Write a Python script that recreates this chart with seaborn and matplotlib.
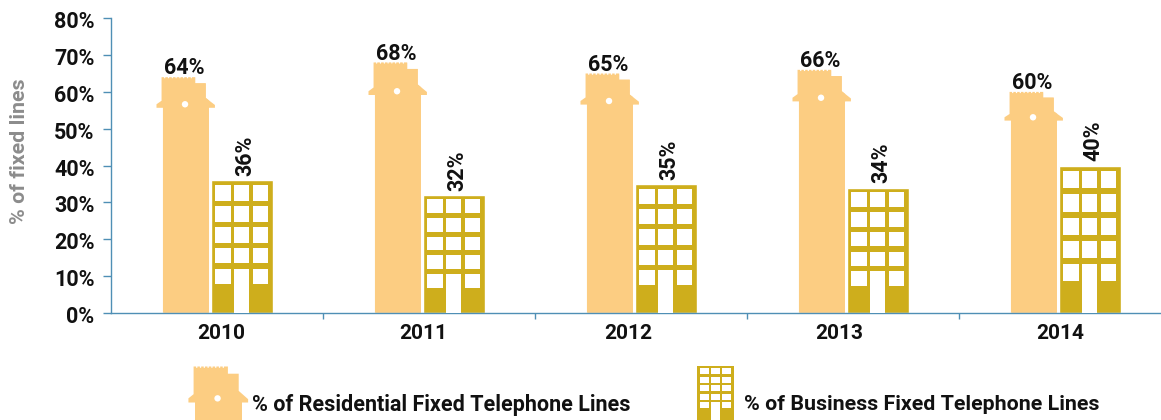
import matplotlib
matplotlib.use("Agg")
import matplotlib.pyplot as plt
import pandas as pd
import seaborn as sns
from matplotlib.patches import Circle, Polygon, Rectangle
from matplotlib.transforms import Affine2D, ScaledTranslation

years = ["2010", "2011", "2012", "2013", "2014"]
residential = [64, 68, 65, 66, 60]
business = [36, 32, 35, 34, 40]
y_ticks = [0, 10, 20, 30, 40, 50, 60, 70, 80]
series_names = ["% of Residential Fixed Telephone Lines", "% of Business Fixed Telephone Lines"]

W, H = 1161, 420
HOUSE = "#fccd82"
GOLD = "#ceae1c"
AXIS = "#4f8fb5"
INK = "#111111"

sns.set_style("white")
plt.rcParams["font.family"] = ["Roboto", "DejaVu Sans"]
plt.rcParams["font.weight"] = "bold"

fig = plt.figure(figsize=(W / 100, H / 100), dpi=100)
ax = fig.add_axes([111 / W, (H - 312.7) / H, (W - 111) / W, (312.7 - 18.3) / H])

df = pd.DataFrame({
    "year": years * 2,
    "series": [series_names[0]] * 5 + [series_names[1]] * 5,
    "value": residential + business,
})
sns.barplot(data=df, x="year", y="value", hue="series", palette=[HOUSE, GOLD],
            width=0.52, gap=0, saturation=1, legend=False, ax=ax)

ax.set_xlim(-0.5, (W - 111) / 212 - 0.5)
ax.set_ylim(0, 80)
sns.despine(ax=ax)

# everything icon shaped is worked out in image pixels (y going down)
pix = Affine2D().scale(1 / W, -1 / H).translate(0, 1) + fig.transFigure


def to_pix(x, y):
    return pix.inverted().transform(ax.transData.transform((x, y)))


def house_outline(left, right, top, bottom):
    w = right - left
    h = bottom - top
    tower_l = left - 0.03 * w
    step_x = left + 0.70 * w
    step_r = left + 0.93 * w
    pts = [(left, bottom), (left, top + 0.13 * h), (left - 0.14 * w, top + 0.13 * h),
           (left - 0.14 * w, top + 0.115 * h), (tower_l, top + 0.10 * h)]
    # notched parapet along the roof line
    x = tower_l
    while x < step_x - 4:
        pts += [(x, top), (x + 2.5, top), (x + 2.5, top + 1.3), (x + 3.8, top + 1.3), (x + 3.8, top)]
        x += 3.8
    pts += [(step_x, top), (step_x, top + 0.026 * h), (step_r, top + 0.026 * h),
            (step_r, top + 0.088 * h), (right + 0.13 * w, top + 0.118 * h),
            (right + 0.13 * w, top + 0.13 * h), (right, top + 0.13 * h), (right, bottom)]
    return pts


def draw_house(left, right, top, bottom, clip_target=None):
    w = right - left
    h = bottom - top
    shape = Polygon(house_outline(left, right, top, bottom), closed=True, facecolor=HOUSE,
                    edgecolor="none", transform=pix, clip_on=False, zorder=2)
    ax.add_patch(shape)
    if clip_target is not None:
        clip_target.set_clip_path(shape)
    ax.add_patch(Circle((left + 0.48 * w, top + 0.115 * h), 3.2, facecolor="white", edgecolor="none",
                        transform=pix, clip_on=False, zorder=3))


def draw_building(left, right, top, bottom, solid=False):
    w = right - left
    h = bottom - top
    if solid:
        ax.add_patch(Rectangle((left, top), w, h, facecolor=GOLD, edgecolor="none",
                               transform=pix, clip_on=False, zorder=2))
    col_x = [0.075, 0.375, 0.68]
    col_w = 0.25
    for r in range(5):
        win_top = top + (0.0376 + r * 0.158) * h
        for c in range(3):
            ax.add_patch(Rectangle((left + col_x[c] * w, win_top), col_w * w, 0.117 * h,
                                   facecolor="white", edgecolor="none", transform=pix,
                                   clip_on=False, zorder=3))
    # door runs from the last window row to the ground
    door_top = top + (0.0376 + 4 * 0.158) * h
    ax.add_patch(Rectangle((left + col_x[1] * w, door_top), col_w * w, bottom - door_top,
                           facecolor="white", edgecolor="none", transform=pix,
                           clip_on=False, zorder=3))


house_bars, building_bars = ax.containers[0], ax.containers[1]
for i in range(len(years)):
    hb = house_bars[i]
    hb.set_x(i - 0.255)
    hb.set_width(0.217)
    left, bottom = to_pix(hb.get_x(), 0)
    right, top = to_pix(hb.get_x() + hb.get_width(), hb.get_height())
    draw_house(left, right, top, bottom, clip_target=hb)
    ax.annotate(f"{residential[i]}%", (i - 0.147, residential[i]), xytext=(-1, -1.5),
                textcoords="offset points", ha="center", va="bottom",
                fontsize=15.5, color=INK)

    bb = building_bars[i]
    bb.set_x(i - 0.03)
    bb.set_width(0.292)
    left, bottom = to_pix(bb.get_x(), 0)
    right, top = to_pix(bb.get_x() + bb.get_width(), bb.get_height())
    draw_building(left, right, top, bottom)
    ax.annotate(f"{business[i]}%", (i + 0.122, business[i]), xytext=(2, 3),
                textcoords="offset points", ha="center", va="bottom", rotation=90,
                fontsize=15.5, color=INK)

# axes
for side in ["left", "bottom"]:
    ax.spines[side].set_color(AXIS)
    ax.spines[side].set_linewidth(1.0)
ax.set_yticks(y_ticks)
ax.set_yticklabels([f"{t}%" for t in y_ticks])
ax.tick_params(axis="y", left=True, length=5.8, width=1, color=AXIS, pad=6, labelsize=15.5, labelcolor=INK)
ax.set_xticks([0.5, 1.5, 2.5, 3.5], minor=True)
ax.tick_params(axis="x", which="minor", bottom=True, length=4, width=1, color=AXIS)
ax.tick_params(axis="x", which="major", bottom=False, length=0, pad=8, labelsize=15, labelcolor=INK)
ax.set_xlabel("")
ax.set_ylabel("")

for lab in ax.get_yticklabels():
    lab.set_transform(lab.get_transform() + ScaledTranslation(0, -1.5 / 100, fig.dpi_scale_trans))

# the year labels sit a little off the group centres in the original
label_shift = [4, -6, -13, -14, -5]
for lab, dx in zip(ax.get_xticklabels(), label_shift):
    lab.set_transform(lab.get_transform() + ScaledTranslation(dx / 100, 0, fig.dpi_scale_trans))

fig.text(20 / W, 1 - 151 / H, "% of fixed lines", rotation=90, ha="center", va="center",
         fontsize=15.4, color="#8c8c8c")

# legend
draw_house(195, 242, 366.5, 366.5 + 277)
draw_building(697, 734, 366, 420, solid=True)
fig.text(252 / W, 1 - 405 / H, series_names[0], ha="left", va="center", fontsize=15.5, color=INK)
fig.text(744 / W, 1 - 405 / H, series_names[1], ha="left", va="center", fontsize=15.4, color=INK)

fig.savefig("out.png", dpi=100)
